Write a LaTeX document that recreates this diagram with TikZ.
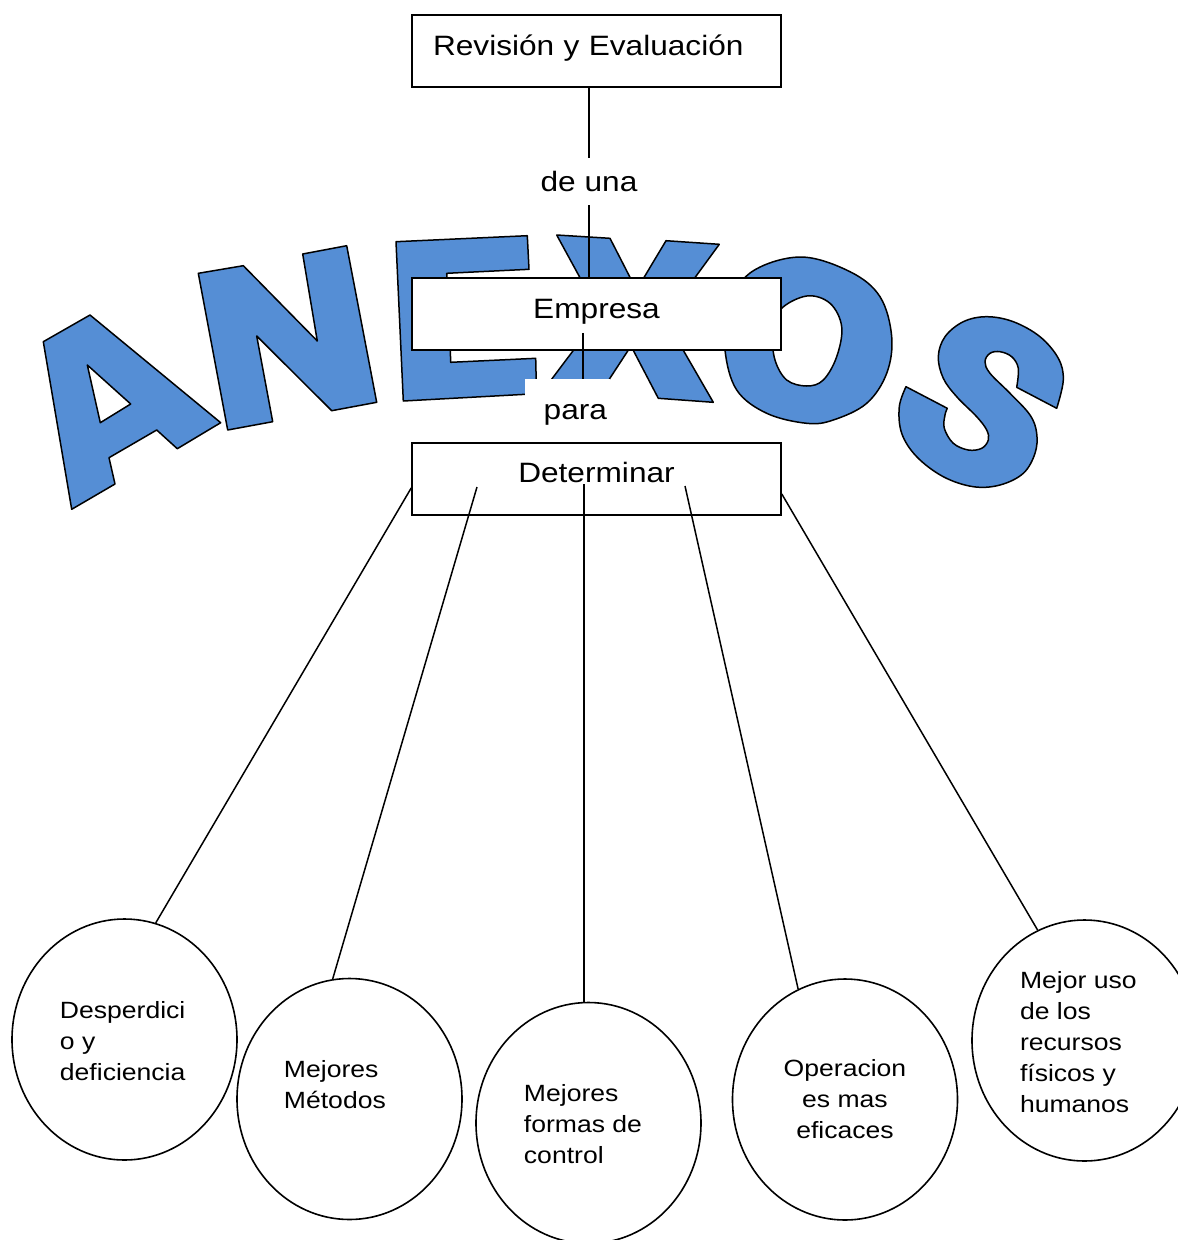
\documentclass[tikz,border=0pt]{standalone}
\usepackage{fontspec}
\setmainfont{Liberation Sans}[FakeStretch=1.13]
\usetikzlibrary{shapes.geometric,calc}
\definecolor{letterblue}{RGB}{85,142,213}
\begin{document}
\begin{tikzpicture}[x=1pt,y=-1pt]
\tikzset{
  boxnode/.style={draw, line width=1.6pt, fill=white, minimum width=369pt,
    minimum height=72pt, inner sep=0pt, text height=20pt, text depth=12pt,
    font=\fontsize{28}{34}\selectfont},
  linktext/.style={inner xsep=0pt, font=\fontsize{28}{34}\selectfont},
  ellnode/.style={ellipse, draw, line width=1.6pt, fill=white,
    minimum width=225pt, minimum height=241pt, inner sep=0pt},
  ctext/.style={align=left, inner sep=0pt, font=\fontsize{23.5}{31}\selectfont},
  conn/.style={line width=1.5pt},
  letter/.style={fill=letterblue, draw=black, line width=1.5pt, line join=round},
}
\useasboundingbox (0,0) rectangle (1178,1240);

% ---- arched word "ANEXOS" ----
% A
\draw[letter, even odd rule]
  (43.3,341.7) -- (90,315) -- (220.7,422.7) -- (177.3,448.7) -- (156.7,430)
  -- (109,457.7) -- (115,484) -- (71.7,509.3) -- cycle
  (87.3,365) -- (130.7,404) -- (100.3,422.7) -- cycle;
% N
\draw[letter]
  (198.3,273.3) -- (243.3,265.7) -- (317.3,341) -- (302.7,254) -- (346.7,245.7)
  -- (376.7,402.3) -- (331.7,410.7) -- (256.7,336) -- (272.7,421.7)
  -- (227.7,430) -- cycle;
% E
\draw[letter]
  (396,241.7) -- (527.3,235.7) -- (529,269.3) -- (446.7,273.3) -- (448,300)
  -- (515,297) -- (516,325) -- (449.5,328) -- (450.7,362.3) -- (535.7,358.3)
  -- (536.5,393.7) -- (403.3,401) -- cycle;
% X
\draw[letter]
  (556.7,235) -- (610,238.3) -- (636.5,290) -- (666,240.7) -- (719.3,244.3)
  -- (665,318.6) -- (713.3,402.3) -- (658.3,398.3) -- (631,346)
  -- (597,398) -- (536,400) -- (600.2,314.7) -- cycle;
% O
\draw[letter, even odd rule]
  plot[smooth cycle, tension=0.6] coordinates {(800,257) (850,271.7) (880,296.7)
    (891.7,336.7) (886.7,373.3) (866.7,403.3) (833.3,420) (806.7,423.3)
    (766.7,413.3) (736.7,390) (725,350) (728,310) (750,273)}
  plot[smooth cycle, tension=0.6] coordinates {(806.7,296) (830,303.3)
    (841.7,326.7) (836.7,356.7) (823.3,380) (806.7,386) (786.7,380) (775,360)
    (773,335) (780,310)};
% S
\draw[letter]
  plot[smooth, tension=0.6] coordinates {(1056.7,408.3) (1063.3,380)
    (1058.3,358.3) (1040,336.7) (1013.3,321.7) (986.7,316.7) (963.3,321.7)
    (945,336.7) (938.3,356.7) (943.3,378.3) (956.7,396.7) (976.7,416.7)
    (986.7,430) (988.3,440) (981.7,448.3) (968.3,450) (953.3,443.3)
    (944.3,428.3) (945,415) (947.3,408.3)}
  -- plot[smooth, tension=0.6] coordinates {(906,386.7) (899.3,406.7)
    (901.7,433.3) (916.7,456.7) (943.3,476.7) (973.3,486.7) (1000,485)
    (1023.3,473.3) (1035,453.3) (1036.7,433.3) (1030,415) (1010,393.3)
    (990,373.3) (985,361.7) (990,353.3) (1000,351.7) (1011.7,356.7)
    (1018.3,368.3) (1016.7,387.3)}
  -- cycle;

% ---- boxes and linking words ----
\node[boxnode, text width=327pt, align=left, inner xsep=21pt] (rev)
  at (596.5,51) {Revisión y Evaluación};
\node[linktext, text height=20pt, text depth=0pt, inner ysep=13.5pt] (deuna)
  at (589,181.5) {de una};
\node[boxnode] (emp) at (596.5,314) {Empresa};
\node[linktext, fill=white, text width=79pt, align=right, inner xsep=3pt,
  inner ysep=0pt, text height=40pt, text depth=19pt] (para)
  at (567.5,408.5) {para};
\node[boxnode] (det) at (596.5,478.75) {Determinar};

\draw[conn] (rev.south -| deuna.north) -- (deuna.north);
\draw[conn] (deuna.south) -- (deuna.south |- emp.north);
\coordinate (e1) at ($(emp.south)+(-13.5,-18)$);
\draw[conn] (e1) -- (e1 |- para.north);

% ---- outcome circles ----
\node[ellnode] (c1) at (124.5,1039.5) {};
\node[ellnode] (c2) at (349.5,1099) {};
\node[ellnode] (c3) at (588.5,1123) {};
\node[ellnode] (c4) at (845,1099.5) {};
\node[ellnode] (c5) at (1084.5,1040.5) {};

\node[ctext] (t1) at (122.7,1040.6) {Desperdici\\o y\\deficiencia};
\node[ctext] (t2) at (334.9,1084.1) {Mejores\\Métodos};
\node[ctext] (t3) at (583,1124.1) {Mejores\\formas de\\control};
\node[ctext, align=center] (t4) at (845,1099) {Operacion\\es mas\\eficaces};
\node[ctext] (t5) at (1078.3,1041.6) {Mejor uso\\de los\\recursos\\físicos y\\humanos};

% ---- connectors from "Determinar" ----
\coordinate (d1) at ($(det.west)+(0,9.25)$);
\coordinate (d2) at ($(det.center)+(-119.5,8.25)$);
\coordinate (d3) at ($(det.center)+(-12.5,5.25)$);
\coordinate (d4) at ($(det.center)+(88.5,7.25)$);
\coordinate (d5) at ($(det.east)+(0,15.25)$);
\draw[conn] (d1) -- (c1.75);
\draw[conn] (d2) -- (c2.98);
\draw[conn] (d3) -- (d3 |- c3.north);
\draw[conn] (d4) -- (c4.113);
\draw[conn] (d5) -- (c5.113);
\end{tikzpicture}
\end{document}
